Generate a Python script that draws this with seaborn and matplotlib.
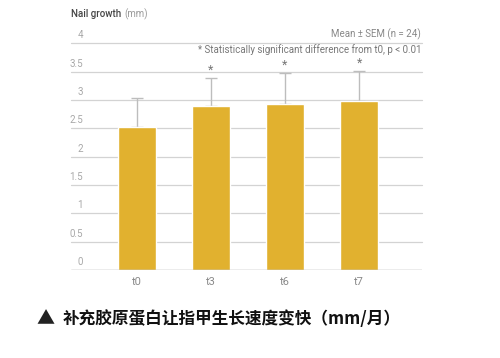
import matplotlib
matplotlib.use("Agg")
import matplotlib.pyplot as plt
import seaborn as sns
import pandas as pd
import numpy as np
from matplotlib import transforms

# ---- data ----
categories = ["t0", "t3", "t6", "t7"]
means = [2.53, 2.89, 2.93, 2.98]
sems = [0.50, 0.50, 0.55, 0.53]
significant = [False, True, True, True]
y_ticks = [0, 0.5, 1, 1.5, 2, 2.5, 3, 3.5, 4]
y_tick_labels = ["0", "0.5", "1", "1.5", "2", "2.5", "3", "3.5", "4"]

sns.set_theme(style="white")
plt.rcParams["font.family"] = ["Roboto", "DejaVu Sans"]

df = pd.DataFrame({"time": categories, "growth": means})

fig = plt.figure(figsize=(5.0, 3.58), dpi=100)
ax = fig.add_axes([0.142, 0.2458, 0.702, 0.633])

sns.barplot(data=df, x="time", y="growth", color="#E1B12F", width=0.51,
            saturation=1, ax=ax, zorder=3, errorbar=None)

xs = np.arange(len(categories))
ax.errorbar(xs, means, yerr=[np.zeros(len(sems)), sems], fmt="none",
            ecolor="#BDBDBD", elinewidth=1.0, capsize=4.3, capthick=1.0, zorder=2)

for x, m, s, sig in zip(xs, means, sems, significant):
    if sig:
        ax.text(x, m + s + 0.02, "*", ha="center", va="bottom", fontsize=9,
                color="#777777", zorder=4)

ax.set_xlim(-0.89, 3.85)
ax.set_ylim(0, 4)
for yv in y_ticks[1:]:
    ax.axhline(yv, color="#D3D3D3", lw=0.9, zorder=1, clip_on=False)
ax.axhline(0, color="#A0A0A0", lw=1.0, zorder=4)

for sp in ax.spines.values():
    sp.set_visible(False)
ax.set_yticks([])
ax.set_xlabel("")
ax.set_ylabel("")
ax.tick_params(axis="x", length=0, pad=5, labelsize=8, labelcolor="#8A8A8A")

# y labels sitting just above gridlines
trans = transforms.blended_transform_factory(ax.transAxes, ax.transData)
offset = transforms.ScaledTranslation(0, 8 / 100, fig.dpi_scale_trans)
for yv, lab in zip(y_ticks, y_tick_labels):
    ax.text(0.034, yv, lab, transform=trans + offset, ha="right", va="center",
            fontsize=7, color="#A8A8A8")

# header texts
t1 = fig.text(71 / 500, 1 - 14 / 358, "Nail growth", ha="left", va="center",
              fontsize=7, color="#444444", fontweight="medium")
fig.text(0, 0, "")
ax.annotate("(mm)", xy=(1, 0.5), xycoords=t1, xytext=(2, 0),
            textcoords="offset points", ha="left", va="center",
            fontsize=7, color="#9A9A9A", annotation_clip=False)
fig.text(421 / 500, 1 - 34 / 358, "Mean ± SEM (n = 24)", ha="right", va="center",
         fontsize=7, color="#888888")
fig.text(421 / 500, 1 - 50 / 358,
         "* Statistically significant difference from t0, p < 0.01",
         ha="right", va="center", fontsize=7, color="#777777")

# caption
fig.text(36 / 500, 1 - 319 / 358, "▲", ha="left", va="center", fontsize=13,
         color="#222222", family=["Noto Sans CJK SC", "DejaVu Sans"])
fig.text(63 / 500, 1 - 319 / 358, "补充胶原蛋白让指甲生长速度变快（mm/月）",
         ha="left", va="center", fontsize=12, fontweight="bold", color="#111111",
         family=["Noto Sans CJK SC", "DejaVu Sans"])

fig.savefig("out.png", dpi=100, facecolor="white")
